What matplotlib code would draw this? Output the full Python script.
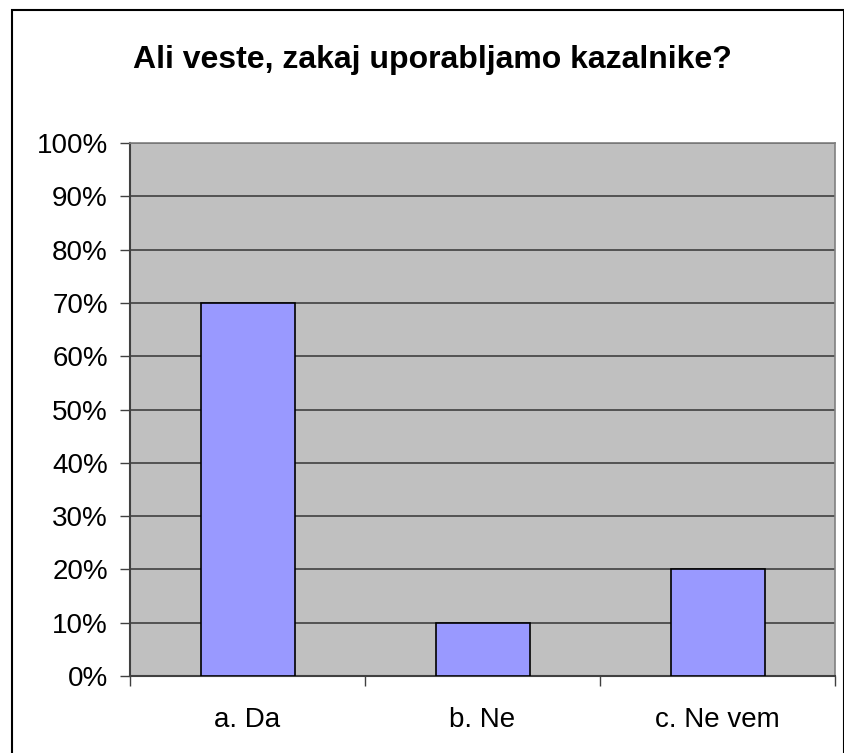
import matplotlib
matplotlib.use("Agg")
import matplotlib.pyplot as plt
from matplotlib.patches import Rectangle
from matplotlib.ticker import PercentFormatter

categories = ["a. Da", "b. Ne", "c. Ne vem"]
values = [70, 10, 20]
title = "Ali veste, zakaj uporabljamo kazalnike?"

plt.rcParams['font.family'] = ['Liberation Sans', 'DejaVu Sans']

W, H = 844, 753
fig = plt.figure(figsize=(W / 100, H / 100), dpi=100)
fig.patch.set_facecolor('white')

# outer frame
fig.patches.append(Rectangle((12 / W, -0.01), (W - 12.5) / W, (H - 10) / H + 0.01,
                             transform=fig.transFigure, fill=False,
                             edgecolor='black', linewidth=1.5))

left, right, top, bottom = 130, 835, 143, 676
ax = fig.add_axes([left / W, 1 - bottom / H, (right - left) / W, (bottom - top) / H])
ax.set_facecolor('#C0C0C0')

x = list(range(len(categories)))
ax.bar(x, values, width=0.4, color='#9999FF', edgecolor='black', linewidth=1.2, zorder=3)

ax.set_xlim(-0.5, len(categories) - 0.5)
ax.set_ylim(0, 100)
ax.set_yticks(range(0, 101, 10))
ax.yaxis.set_major_formatter(PercentFormatter(decimals=0))
ax.grid(axis='y', color='#404040', linewidth=1.2, zorder=1)
ax.set_axisbelow(True)

ax.set_xticks(x)
ax.set_xticklabels(categories, fontsize=20)
ax.set_xticks([i - 0.5 for i in range(len(categories) + 1)], minor=True)
ax.tick_params(axis='x', which='major', length=0, pad=22)
ax.tick_params(axis='x', which='minor', length=7, width=1, color='#404040', direction='out')
ax.tick_params(axis='y', length=7, width=1, color='#404040', labelsize=20, pad=9)

for s in ['left', 'bottom']:
    ax.spines[s].set_color('#404040')
    ax.spines[s].set_linewidth(1.5)
for s in ['top', 'right']:
    ax.spines[s].set_color('#808080')
    ax.spines[s].set_linewidth(1.2)

fig.text(432 / W, 1 - 68 / H, title, ha='center', va='baseline', fontsize=23, fontweight='bold')

fig.savefig('out.png', dpi=100)
